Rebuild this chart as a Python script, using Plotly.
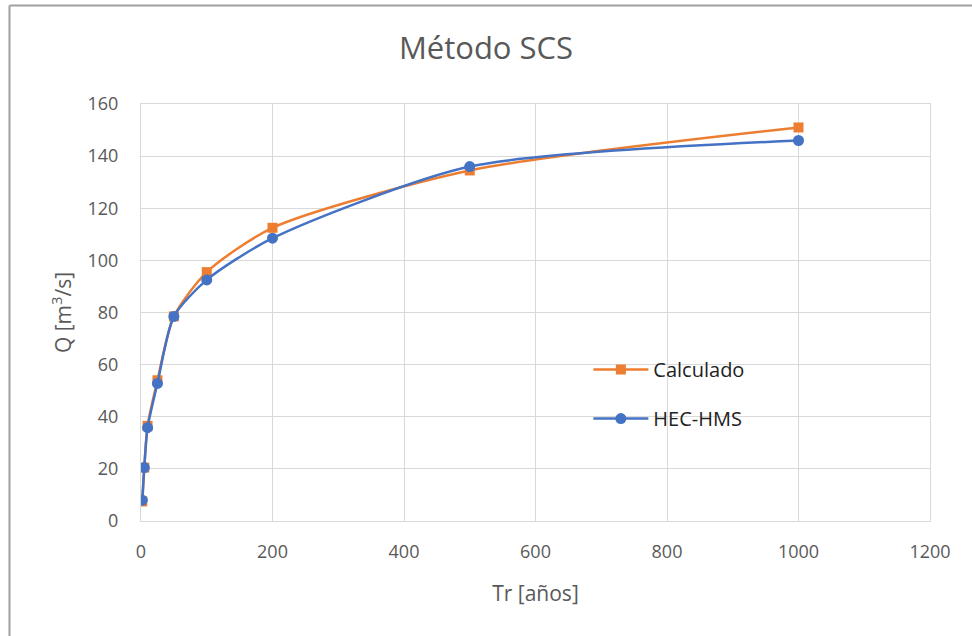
import plotly.graph_objects as go

tr = [2, 5, 10, 25, 50, 100, 200, 500, 1000]
calculado = [7.5, 20.5, 36.5, 54, 78.5, 95.5, 112.5, 134.5, 151]
hec_hms = [8, 20.5, 35.8, 52.8, 78.5, 92.5, 108.5, 136, 146]

x_ticks = [0, 200, 400, 600, 800, 1000, 1200]
y_ticks = [0, 20, 40, 60, 80, 100, 120, 140, 160]

text_color = "#595959"
grid_color = "#D9D9D9"
font_family = "Open Sans, Liberation Sans, sans-serif"

fig = go.Figure()
fig.add_trace(go.Scatter(
    x=tr, y=calculado, name="Calculado", mode="lines+markers",
    line=dict(color="#ED7D31", width=2.5, shape="spline", smoothing=0.7),
    marker=dict(symbol="square", size=10, color="#ED7D31"),
    legendgroup="a",
))
fig.add_trace(go.Scatter(
    x=tr, y=hec_hms, name="HEC-HMS", mode="lines+markers",
    line=dict(color="#4472C4", width=2.5, shape="spline", smoothing=0.7),
    marker=dict(symbol="circle", size=11, color="#4472C4"),
    legendgroup="b",
))

fig.update_layout(
    width=972, height=636,
    margin=dict(l=141, r=42, t=104, b=115),
    paper_bgcolor="white", plot_bgcolor="white",
    font=dict(family=font_family, color=text_color, size=18),
    title=dict(text="Método SCS", x=0.5, xanchor="center", y=0.925, yanchor="middle",
               font=dict(size=31, color=text_color, family=font_family)),
    showlegend=True,
    legend=dict(x=0.567, y=0.41, xanchor="left", yanchor="top",
                bgcolor="rgba(0,0,0,0)", font=dict(size=20, color="#222222"),
                tracegroupgap=20, itemwidth=55),
    xaxis=dict(range=[0, 1200], tickvals=x_ticks, showgrid=True, gridcolor=grid_color,
               gridwidth=1, zeroline=False, showline=True, linecolor=grid_color,
               mirror=True, ticks="", tickfont=dict(size=18, color=text_color),
               ticklabelstandoff=14,
               title=dict(text="Tr [años]", font=dict(size=21, color=text_color), standoff=24)),
    yaxis=dict(range=[0, 160], tickvals=y_ticks, showgrid=True, gridcolor=grid_color,
               gridwidth=1, zeroline=False, showline=True, linecolor=grid_color,
               mirror=True, ticks="", tickfont=dict(size=18, color=text_color),
               ticklabelstandoff=18,
               title=dict(text="Q [m<sup>3</sup>/s]", font=dict(size=21, color=text_color), standoff=10)),
    shapes=[
        dict(type="line", xref="paper", yref="paper", x0=-0.1667, x1=-0.1667, y0=1.2362, y1=-0.4,
             line=dict(color="#A0A0A0", width=2)),
        dict(type="line", xref="paper", yref="paper", x0=-0.1667, x1=1.2, y0=1.2362, y1=1.2362,
             line=dict(color="#A0A0A0", width=2)),
    ],
)

fig.write_html("out.html")
